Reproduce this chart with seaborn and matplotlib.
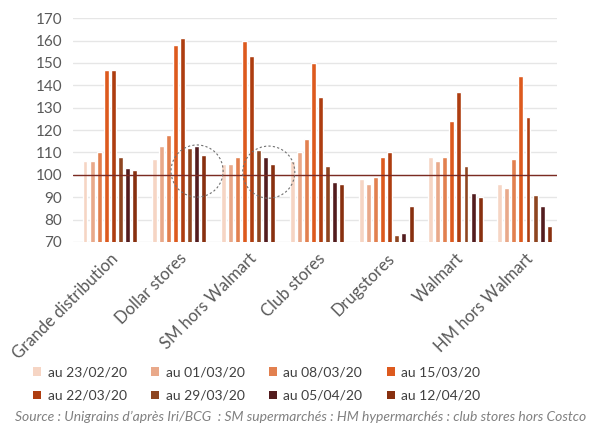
import matplotlib
matplotlib.use("Agg")
import matplotlib.pyplot as plt
from matplotlib.patches import Patch, Ellipse
import seaborn as sns
import pandas as pd

categories = ["Grande distribution", "Dollar stores", "SM hors Walmart", "Club stores",
              "Drugstores", "Walmart", "HM hors Walmart"]
periods = ["au 23/02/20", "au 01/03/20", "au 08/03/20", "au 15/03/20",
           "au 22/03/20", "au 29/03/20", "au 05/04/20", "au 12/04/20"]

v_2302 = [106, 107, 105, 106, 98, 108, 96]
v_0103 = [106, 113, 105, 110, 96, 106, 94]
v_0803 = [110, 118, 108, 116, 99, 108, 107]
v_1503 = [147, 158, 160, 150, 108, 124, 144]
v_2203 = [147, 161, 153, 135, 110, 137, 126]
v_2903 = [108, 112, 111, 104, 73, 104, 91]
v_0504 = [103, 113, 108, 97, 74, 92, 86]
v_1204 = [102, 109, 105, 96, 86, 90, 77]

colors = ["#f6d5c4", "#e9a98a", "#e2804f", "#dd5a1e", "#ae3d10", "#8e4520", "#531c1e", "#88300f"]
yticks = [70, 80, 90, 100, 110, 120, 130, 140, 150, 160, 170]
source = "Source : Unigrains d\u2019apr\u00e8s Iri/BCG  : SM supermarch\u00e9s : HM hypermarch\u00e9s : club stores hors Costco"

series = [v_2302, v_0103, v_0803, v_1503, v_2203, v_2903, v_0504, v_1204]
rows = []
for p, vals in zip(periods, series):
    for c, v in zip(categories, vals):
        rows.append({"cat": c, "period": p, "val": v})
df = pd.DataFrame(rows)

sns.set_style("white")
plt.rcParams["font.family"] = ["Lato", "DejaVu Sans"]

fig = plt.figure(figsize=(5.9, 4.23), dpi=100)
ax = fig.add_axes([0.124, 0.428, 0.82, 0.529])

sns.barplot(data=df, x="cat", y="val", hue="period", order=categories, hue_order=periods,
            palette=colors, width=0.82, gap=0.3, ax=ax, legend=False, saturation=1)

ax.set_ylim(70, 170)
ax.set_xlim(-0.53, 6.47)
ax.set_yticks(yticks)
ax.yaxis.grid(True, color="#e6e6e6", lw=1)
ax.set_axisbelow(True)
for s in ax.spines.values():
    s.set_visible(False)
ax.set_xlabel("")
ax.set_ylabel("")
ax.tick_params(axis="both", length=0, colors="#595959", labelsize=11)
ax.tick_params(axis="y", pad=8)
ax.set_xticks(range(len(categories)))
ax.set_xticklabels(categories, rotation=45, ha="right", rotation_mode="anchor", fontsize=12, color="#595959")
ax.tick_params(axis="x", pad=6)

ax.axhline(100, color="#7b2b22", lw=1, zorder=5)

for cx, cy in [(1.263, 101.7), (2.30, 101.2)]:
    ax.add_patch(Ellipse((cx, cy), 0.754, 23.3, fill=False, ls=(0, (2, 2)), lw=0.8,
                         ec="#707070", zorder=6))

handles = [Patch(facecolor=c, edgecolor="none", label=p) for c, p in zip(colors, periods)]
order = [0, 4, 1, 5, 2, 6, 3, 7]
fig.legend(handles=[handles[i] for i in order], ncol=4, loc="center left",
           bbox_to_anchor=(0.035, 1 - 384 / 423),
           frameon=False, fontsize=10, handlelength=0.6, handleheight=0.6, handletextpad=0.45,
           columnspacing=1.75, labelspacing=0.85, labelcolor="#404040")

fig.text(0.025, 1 - 417 / 423, source, style="italic", color="#808080", fontsize=10, va="center")

fig.savefig("out.png", dpi=100)
